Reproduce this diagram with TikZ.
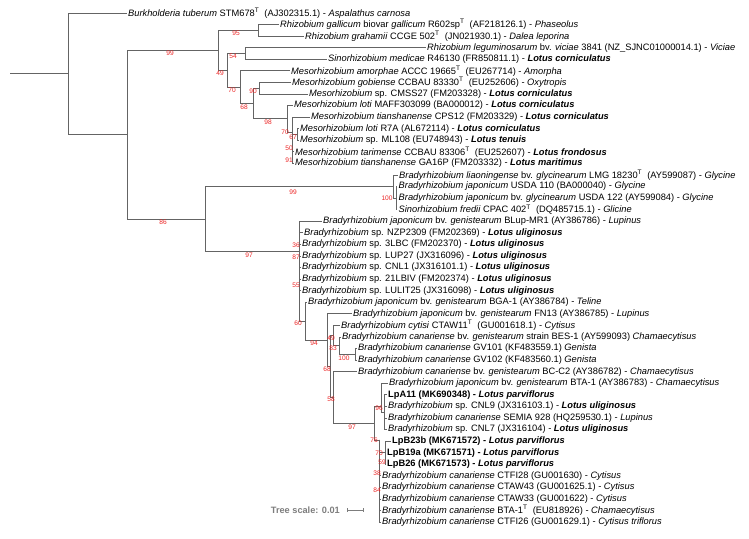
\documentclass[tikz,border=0pt]{standalone}
\usepackage{fontspec}
\setmainfont{Liberation Sans}
\definecolor{branch}{RGB}{100,100,100}
\definecolor{bsred}{RGB}{235,35,35}
\definecolor{scalegray}{RGB}{125,125,125}
\newcommand{\Ts}{\textsuperscript{T}}
\newcommand{\lotus}[1]{\textbf{\textit{#1}}}
\begin{document}
\begin{tikzpicture}[x=1pt,y=-11.57pt,
  leaf/.style={anchor=west,inner xsep=1.5pt,inner ysep=0pt,font=\fontsize{9.3}{10}\selectfont},
  bs/.style={text=bsred,inner sep=0pt,font=\fontsize{6.6}{7}\selectfont}]
\useasboundingbox (0,-0.1236) rectangle (749,46.376);
% internal nodes
\coordinate (root) at (10,6.26);
\coordinate (r) at (68,6.26);
\coordinate (A) at (127,11.515);
\coordinate (rhizo) at (218,4.23);
\coordinate (gall) at (258,2.5);
\coordinate (sino) at (227,5.96);
\coordinate (legu) at (245,4.5);
\coordinate (meso) at (240,7.41);
\coordinate (meso2) at (253,8.83);
\coordinate (gobi) at (259,7.5);
\coordinate (loti) at (287,10.15);
\coordinate (loti2) at (292,11.3);
\coordinate (r7a) at (297,11.5);
\coordinate (brady) at (205,18.8);
\coordinate (glyc) at (393,16);
\coordinate (glyc2) at (396,17);
\coordinate (uligi) at (299,21.6);
\coordinate (geni) at (305,27.64);
\coordinate (geni2) at (327,29.28);
\coordinate (cana) at (330,31.55);
\coordinate (cyti) at (333,28.875);
\coordinate (bes) at (339,29.75);
\coordinate (gv) at (355,30.5);
\coordinate (bcc) at (333,34.23);
\coordinate (parv) at (374,36.45);
\coordinate (bta) at (381,35);
\coordinate (lpa) at (384,35.5);
\coordinate (ctfi) at (379,37.9);
\coordinate (lpb) at (385,39);
% leaves
\node[leaf] (l1) at (126.5,1) {\textit{Burkholderia tuberum} STM678\Ts~ (AJ302315.1) - \textit{Aspalathus carnosa}};
\node[leaf] (l2) at (278.5,2) {\textit{Rhizobium gallicum} biovar \textit{gallicum} R602sp\Ts~ (AF218126.1) - \textit{Phaseolus}};
\node[leaf] (l3) at (303.5,3) {\textit{Rhizobium grahamii} CCGE 502\Ts~ (JN021930.1) - \textit{Dalea leporina}};
\node[leaf] (l4) at (425.5,4) {\textit{Rhizobium leguminosarum} bv. \textit{viciae} 3841 (NZ\_SJNC01000014.1) - \textit{Viciae}};
\node[leaf] (l5) at (326.5,5) {\textit{Sinorhizobium medicae} R46130 (FR850811.1) - \lotus{Lotus corniculatus}};
\node[leaf] (l6) at (289.5,6) {\textit{Mesorhizobium amorphae} ACCC 19665\Ts~ (EU267714) - \textit{Amorpha}};
\node[leaf] (l7) at (290.5,7) {\textit{Mesorhizobium gobiense} CCBAU 83330\Ts~ (EU252606) - \textit{Oxytropis}};
\node[leaf] (l8) at (307.5,8) {\textit{Mesorhizobium} sp. CMSS27 (FM203328) - \lotus{Lotus corniculatus}};
\node[leaf] (l9) at (292.5,9) {\textit{Mesorhizobium loti} MAFF303099 (BA000012) - \lotus{Lotus corniculatus}};
\node[leaf] (l10) at (309.5,10) {\textit{Mesorhizobium tianshanense} CPS12 (FM203329) - \lotus{Lotus corniculatus}};
\node[leaf] (l11) at (298.5,11) {\textit{Mesorhizobium loti} R7A (AL672114) - \lotus{Lotus corniculatus}};
\node[leaf] (l12) at (298.5,12) {\textit{Mesorhizobium} sp. ML108 (EU748943) - \lotus{Lotus tenuis}};
\node[leaf] (l13) at (293.5,13) {\textit{Mesorhizobium tarimense} CCBAU 83306\Ts~ (EU252607) - \lotus{Lotus frondosus}};
\node[leaf] (l14) at (293.5,14) {\textit{Mesorhizobium tianshanense} GA16P (FM203332) - \lotus{Lotus maritimus}};
\node[leaf] (l15) at (397.5,15) {\textit{Bradyrhizobium liaoningense} bv. \textit{glycinearum} LMG 18230\Ts~ (AY599087) - \textit{Glycine}};
\node[leaf] (l16) at (397,16) {\textit{Bradyrhizobium japonicum} USDA 110 (BA000040) - \textit{Glycine}};
\node[leaf] (l17) at (397,17) {\textit{Bradyrhizobium japonicum} bv. \textit{glycinearum} USDA 122 (AY599084) - \textit{Glycine}};
\node[leaf] (l18) at (397,18) {\textit{Sinorhizobium fredii} CPAC 402\Ts~ (DQ485715.1) - \textit{Glicine}};
\node[leaf] (l19) at (321.5,19) {\textit{Bradyrhizobium japonicum} bv. \textit{genistearum} BLup-MR1 (AY386786) - \textit{Lupinus}};
\node[leaf] (l20) at (302.5,20) {\textit{Bradyrhizobium} sp. NZP2309 (FM202369) - \lotus{Lotus uliginosus}};
\node[leaf] (l21) at (300.5,21) {\textit{Bradyrhizobium} sp. 3LBC (FM202370) - \lotus{Lotus uliginosus}};
\node[leaf] (l22) at (300.5,22) {\textit{Bradyrhizobium} sp. LUP27 (JX316096) - \lotus{Lotus uliginosus}};
\node[leaf] (l23) at (300.5,23) {\textit{Bradyrhizobium} sp. CNL1 (JX316101.1) - \lotus{Lotus uliginosus}};
\node[leaf] (l24) at (300.5,24) {\textit{Bradyrhizobium} sp. 21LBIV (FM202374) - \lotus{Lotus uliginosus}};
\node[leaf] (l25) at (300.5,25) {\textit{Bradyrhizobium} sp. LULIT25 (JX316098) - \lotus{Lotus uliginosus}};
\node[leaf] (l26) at (306.5,26) {\textit{Bradyrhizobium japonicum} bv. \textit{genistearum} BGA-1 (AY386784) - \textit{Teline}};
\node[leaf] (l27) at (351.5,27) {\textit{Bradyrhizobium japonicum} bv. \textit{genistearum} FN13 (AY386785) - \textit{Lupinus}};
\node[leaf] (l28) at (339.5,28) {\textit{Bradyrhizobium cytisi} CTAW11\Ts~ (GU001618.1) - \textit{Cytisus}};
\node[leaf] (l29) at (340.5,29) {\textit{Bradyrhizobium canariense} bv. \textit{genistearum} strain BES-1 (AY599093) \textit{Chamaecytisus}};
\node[leaf] (l30) at (356.5,30) {\textit{Bradyrhizobium canariense} GV101 (KF483559.1) \textit{Genista}};
\node[leaf] (l31) at (356.5,31) {\textit{Bradyrhizobium canariense} GV102 (KF483560.1) \textit{Genista}};
\node[leaf] (l32) at (356.5,32) {\textit{Bradyrhizobium canariense} bv. \textit{genistearum} BC-C2 (AY386782) - \textit{Chamaecytisus}};
\node[leaf] (l33) at (387.5,33) {\textit{Bradyrhizobium japonicum} bv. \textit{genistearum} BTA-1 (AY386783) - \textit{Chamaecytisus}};
\node[leaf] (l34) at (386.5,34) {\textbf{LpA11 (MK690348) - \textit{Lotus parviflorus}}};
\node[leaf] (l35) at (386.5,35) {\textit{Bradyrhizobium} sp. CNL9 (JX316103.1) - \lotus{Lotus uliginosus}};
\node[leaf] (l36) at (386.5,36) {\textit{Bradyrhizobium canariense} SEMIA 928 (HQ259530.1) - \textit{Lupinus}};
\node[leaf] (l37) at (386.5,37) {\textit{Bradyrhizobium} sp. CNL7 (JX316104) - \lotus{Lotus uliginosus}};
\node[leaf] (l38) at (390.5,38) {\textbf{LpB23b (MK671572) - \textit{Lotus parviflorus}}};
\node[leaf] (l39) at (385.5,39) {\textbf{LpB19a (MK671571) - \textit{Lotus parviflorus}}};
\node[leaf] (l40) at (385.5,40) {\textbf{LpB26 (MK671573) - \textit{Lotus parviflorus}}};
\node[leaf] (l41) at (380.5,41) {\textit{Bradyrhizobium canariense} CTFI28 (GU001630) - \textit{Cytisus}};
\node[leaf] (l42) at (380.5,42) {\textit{Bradyrhizobium canariense} CTAW43 (GU001625.1) - \textit{Cytisus}};
\node[leaf] (l43) at (380.5,43) {\textit{Bradyrhizobium canariense} CTAW33 (GU001622) - \textit{Cytisus}};
\node[leaf] (l44) at (380.5,44) {\textit{Bradyrhizobium canariense} BTA-1\Ts~ (EU818926) - \textit{Chamaecytisus}};
\node[leaf] (l45) at (380.5,45) {\textit{Bradyrhizobium canariense} CTFI26 (GU001629.1) - \textit{Cytisus triflorus}};
% branches
\begin{scope}[color=branch,line width=.8pt]
\draw (root) -- (r);
\draw (r) |- (l1.west) (r) |- (A);
\draw (A) |- (rhizo) (A) |- (brady);
\draw (rhizo) |- (gall) (rhizo) |- (sino);
\draw (gall) |- (l2.west) (gall) |- (l3.west);
\draw (sino) |- (legu) (sino) |- (meso);
\draw (legu) |- (l4.west) (legu) |- (l5.west);
\draw (meso) |- (l6.west) (meso) |- (meso2);
\draw (meso2) |- (gobi) (meso2) |- (loti);
\draw (gobi) |- (l7.west) (gobi) |- (l8.west);
\draw (loti) |- (l9.west) (loti) |- (loti2);
\draw (loti2) |- (l10.west) (loti2) |- (r7a) (loti2) |- (l13.west) (loti2) |- (l14.west);
\draw (r7a) |- (l11.west) (r7a) |- (l12.west);
\draw (brady) |- (glyc) (brady) |- (uligi);
\draw (glyc) |- (l15.west) (glyc) |- (glyc2);
\foreach \c in {l16,l17,l18} \draw (glyc2) |- (\c.west);
\foreach \c in {l19,l20,l21,l22,l23,l24,l25} \draw (uligi) |- (\c.west);
\draw (uligi) |- (geni);
\draw (geni) |- (l26.west) (geni) |- (geni2);
\draw (geni2) |- (l27.west) (geni2) |- (cana);
\draw (cana) |- (cyti) (cana) |- (bcc);
\draw (cyti) |- (l28.west) (cyti) |- (bes);
\draw (bes) |- (l29.west) (bes) |- (gv);
\draw (gv) |- (l30.west) (gv) |- (l31.west);
\draw (bcc) |- (l32.west) (bcc) |- (parv);
\draw (parv) |- (bta) (parv) |- (ctfi);
\draw (bta) |- (l33.west) (bta) |- (lpa);
\foreach \c in {l34,l35,l36,l37} \draw (lpa) |- (\c.west);
\draw (ctfi) |- (lpb);
\foreach \c in {l41,l42,l43,l44,l45} \draw (ctfi) |- (\c.west);
\foreach \c in {l38,l39,l40} \draw (lpb) |- (\c.west);
\end{scope}
% bootstrap values
\node[bs] at (170,4.46) {99};
\node[bs] at (236,2.73) {95};
\node[bs] at (233,4.72) {54};
\node[bs] at (220,6.19) {49};
\node[bs] at (232,7.66) {70};
\node[bs] at (253,7.74) {90};
\node[bs] at (244,9.12) {68};
\node[bs] at (268,10.42) {98};
\node[bs] at (285,11.29) {70};
\node[bs] at (293,11.72) {67};
\node[bs] at (289,12.67) {50};
\node[bs] at (289,13.71) {91};
\node[bs] at (163,19.06) {86};
\node[bs] at (293,16.47) {99};
\node[bs] at (387,16.99) {100};
\node[bs] at (249,21.92) {97};
\node[bs] at (296,21.05) {36};
\node[bs] at (296,22.09) {87};
\node[bs] at (296,24.51) {55};
\node[bs] at (298,27.79) {60};
\node[bs] at (314,29.52) {94};
\node[bs] at (331,29.09) {49};
\node[bs] at (333,29.95) {83};
\node[bs] at (344,30.82) {100};
\node[bs] at (327,31.77) {68};
\node[bs] at (331,34.36) {58};
\node[bs] at (352,36.78) {97};
\node[bs] at (379,35.14) {96};
\node[bs] at (374,37.9) {76};
\node[bs] at (379,39.03) {70};
\node[bs] at (382,39.81) {59};
\node[bs] at (377,40.76) {38};
\node[bs] at (377,42.23) {84};
% scale
\coordinate (sb1) at (347,43.96);
\coordinate (sb2) at (363,43.96);
\node[anchor=east,text=scalegray,inner sep=0pt,font=\bfseries\fontsize{9.2}{10}\selectfont] (tscale) at (340,43.96) {Tree scale: 0.01};
\draw[scalegray,line width=.8pt] (sb1) -- (sb2) ([yshift=2pt]sb1) -- ([yshift=-2pt]sb1) ([yshift=2pt]sb2) -- ([yshift=-2pt]sb2);
\end{tikzpicture}
\end{document}
